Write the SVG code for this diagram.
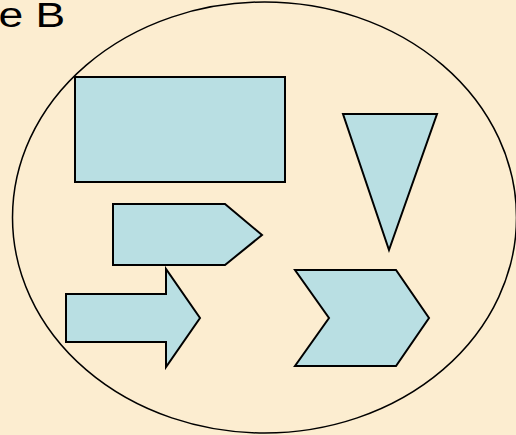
<svg xmlns="http://www.w3.org/2000/svg" width="516" height="435" viewBox="0 0 516 435">
<style>
.shape{fill:#B9DFE3;stroke:#000;stroke-width:2;stroke-linejoin:miter}
.outline{fill:none;stroke:#000;stroke-width:1.5}
.title{font-family:"Liberation Sans",Arial,sans-serif;font-size:35px;fill:#000}
</style>
<rect x="0" y="0" width="516" height="435" fill="#FCEDD0"/>
<text class="title" transform="translate(-1.5,26.7) scale(1.27,1)" x="0" y="0">e B</text>
<g id="ellipse"><ellipse class="outline" cx="264.5" cy="217.5" rx="252" ry="215.5"/></g>
<g id="rectangle"><rect class="shape" x="75" y="77" width="210" height="105"/></g>
<g id="triangle"><polygon class="shape" points="343,114 437,114 389,250"/></g>
<g id="pentagon"><polygon class="shape" points="113,204 225,204 262,235 225,265 113,265"/></g>
<g id="arrow"><polygon class="shape" points="66,294 166,294 166,269 200,318 166,367 166,342 66,342"/></g>
<g id="chevron"><polygon class="shape" points="295,270 396,270 429,318 396,366 295,366 329,318"/></g>
<g id="connectors"></g>
</svg>
